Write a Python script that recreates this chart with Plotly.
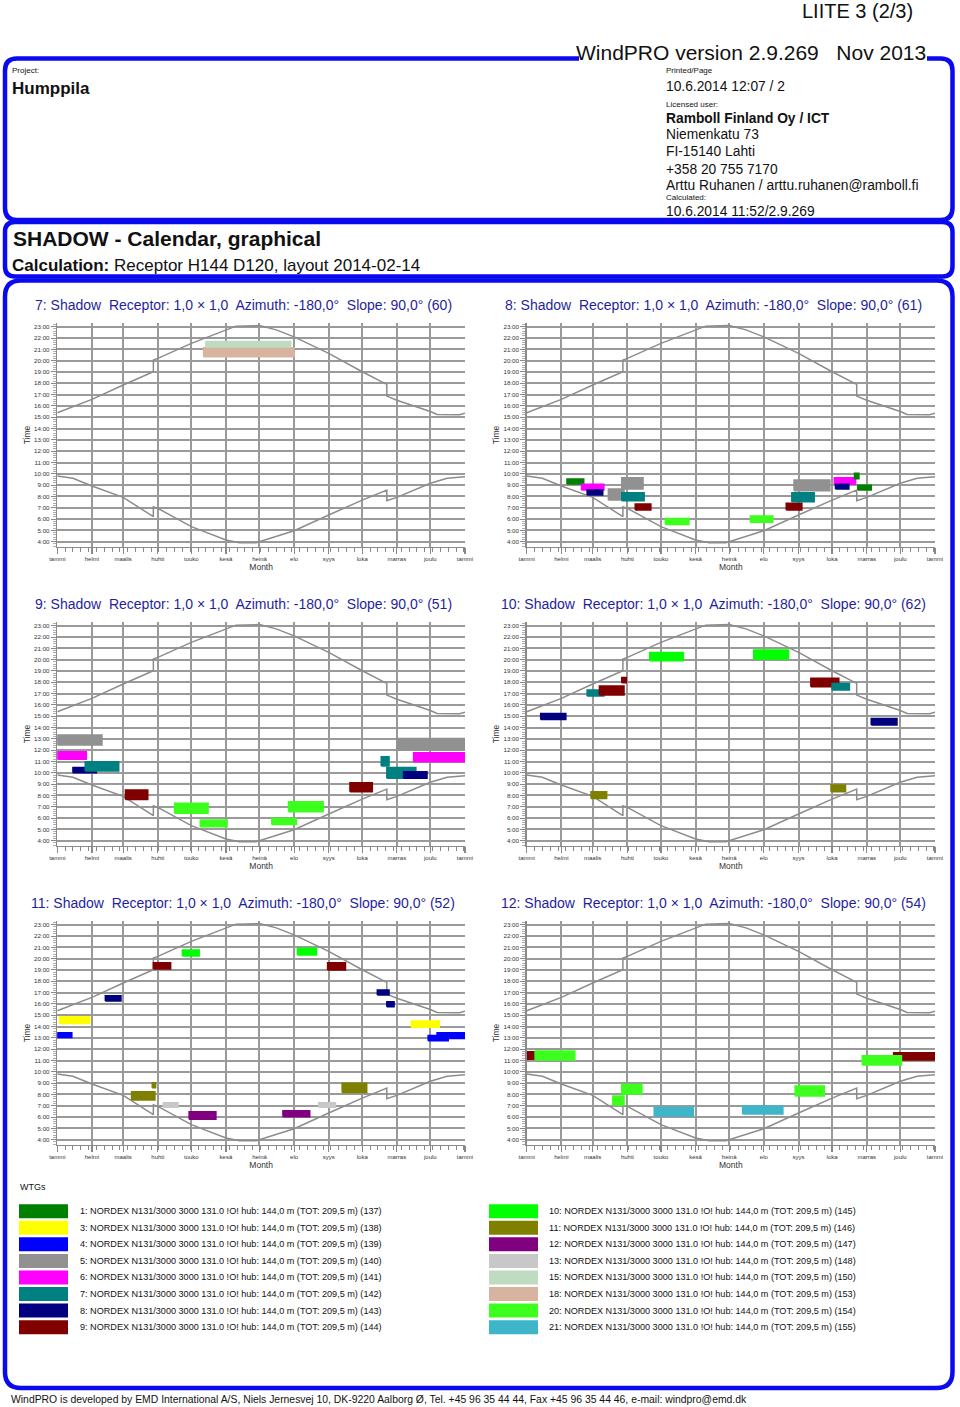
import plotly.graph_objects as go

W, H = 960, 1407

# ---------------- data ----------------
MONTH_LABELS = ["tammi", "helmi", "maalis", "huhti", "touko", "kesä", "heinä",
                "elo", "syys", "loka", "marras", "joulu", "tammi"]
MONTH_START_DAYS = [0, 31, 59, 90, 120, 151, 181, 212, 243, 273, 304, 334, 365]
HOUR_TICKS = list(range(4, 24))
HOUR_LABELS = [f"{h}:00" for h in HOUR_TICKS]

TURBINE_IDS = [1, 3, 4, 5, 6, 7, 8, 9, 10, 11, 12, 13, 15, 18, 20, 21]
TURBINE_REFS = [137, 138, 139, 140, 141, 142, 143, 144, 145, 146, 147, 148, 150, 153, 154, 155]
TURBINE_COLORS = ["#008000", "#ffff00", "#0000ff", "#919191", "#ff00ff", "#008080",
                  "#000080", "#800000", "#00ff00", "#808000", "#800080", "#c8c8c8",
                  "#c0dcc0", "#d8b4a0", "#3cff1e", "#3fb5c9"]

# sunset / sunrise (day of year, clock hour)
SUNSET_DAYS = [0, 31, 59, 86, 86, 90, 120, 151, 160, 181, 196, 212, 243, 273, 295, 295, 304, 334, 340, 360, 365]
SUNSET_HOURS = [15.40, 16.58, 17.85, 19.02, 20.05, 20.20, 21.53, 22.70, 23.05, 23.10, 22.72, 22.10,
                20.64, 19.02, 17.90, 16.87, 16.50, 15.50, 15.25, 15.22, 15.35]
SUNRISE_DAYS = [0, 14, 31, 59, 86, 86, 90, 120, 151, 163, 178, 181, 212, 243, 273, 295, 295, 304, 334, 349, 365]
SUNRISE_HOURS = [9.80, 9.60, 8.92, 7.92, 6.21, 7.09, 6.95, 5.33, 4.15, 3.91, 3.91, 4.00, 4.97,
                 6.36, 7.68, 8.57, 7.62, 7.92, 9.16, 9.60, 9.75]

RECEPTORS = [7, 8, 9, 10, 11, 12]
RECEPTOR_CODES = [60, 61, 51, 62, 52, 54]

# shadow periods: (turbine id, first day, last day, hour from, hour to)
SHADOW_7 = [(18, 131, 212, 20.35, 21.15), (15, 133, 209, 21.2, 21.7)]
SHADOW_8 = [(1, 36, 51, 9.1, 9.55), (6, 49, 69, 8.57, 9.07), (8, 54, 68, 8.13, 8.57),
            (5, 73, 87, 7.68, 8.66), (5, 85, 104, 8.66, 9.66), (7, 85, 105, 7.62, 8.33),
            (9, 97, 111, 6.8, 7.33), (20, 124, 145, 5.53, 6.06), (20, 200, 220, 5.71, 6.27),
            (9, 232, 246, 6.8, 7.39), (5, 239, 271, 8.5, 9.45), (7, 237, 257, 7.54, 8.33),
            (6, 275, 294, 9.07, 9.66), (8, 276, 288, 8.66, 9.07), (1, 293, 297, 9.57, 10.04),
            (1, 296, 308, 8.57, 9.0)]
SHADOW_9 = [(5, 0, 40, 12.46, 13.34), (6, 0, 26, 11.19, 11.87), (8, 14, 35, 10.01, 10.48),
            (7, 25, 55, 10.16, 10.98), (9, 61, 81, 7.65, 8.48), (20, 105, 135, 6.42, 7.3),
            (20, 128, 152, 5.24, 5.83), (20, 192, 214, 5.44, 5.97), (20, 207, 238, 6.56, 7.45),
            (9, 262, 282, 8.33, 9.13), (7, 290, 297, 10.6, 11.42), (7, 295, 321, 9.51, 10.48),
            (8, 310, 331, 9.51, 10.1), (5, 304, 365, 12.01, 13.04), (6, 319, 365, 10.98, 11.78)]
SHADOW_10 = [(8, 12.5, 35, 14.72, 15.25), (7, 54, 69, 16.78, 17.31), (9, 65, 87, 16.87, 17.67),
             (9, 85, 89, 17.96, 18.43), (11, 57.5, 71.5, 7.74, 8.33), (10, 110, 140, 19.91, 20.64),
             (10, 203, 234, 20.05, 20.85), (9, 254, 279, 17.61, 18.35), (7, 273, 288.5, 17.31, 17.9),
             (11, 272, 285, 8.33, 8.92), (8, 308, 331, 14.22, 14.81)]
SHADOW_11 = [(4, 0, 13, 13.04, 13.46), (3, 2, 29, 14.28, 14.87), (8, 43, 57, 16.25, 16.73),
             (9, 86, 101.5, 19.08, 19.64), (10, 112, 127, 20.23, 20.76), (11, 66.5, 87.4, 7.51, 8.24),
             (11, 85, 88, 8.6, 9.04), (13, 95, 108, 6.86, 7.27), (12, 118, 142, 5.8, 6.48),
             (12, 202, 226, 6.03, 6.56), (10, 215, 232, 20.32, 20.91), (13, 234, 249, 6.86, 7.27),
             (9, 242, 258, 18.99, 19.64), (11, 255, 277, 8.18, 8.98), (8, 286.5, 297, 16.79, 17.23),
             (8, 295, 301.5, 15.75, 16.2), (3, 317, 342, 13.93, 14.49), (4, 332, 350, 12.75, 13.2),
             (4, 340, 365, 12.95, 13.46)]
SHADOW_12 = [(9, 0, 18, 11.1, 11.78), (20, 7.5, 43, 11.04, 11.84), (20, 77, 87, 7.06, 7.86),
             (20, 85, 103, 8.04, 8.89), (21, 114, 149, 6.09, 6.86), (21, 193, 229, 6.27, 6.98),
             (20, 240, 266, 7.86, 8.74), (9, 328, 365, 11.04, 11.69), (20, 300, 335, 10.6, 11.43)]
SHADOWS = [SHADOW_7, SHADOW_8, SHADOW_9, SHADOW_10, SHADOW_11, SHADOW_12]

# ---------------- layout helpers ----------------
def px(x):
    return x / W


def py(y):
    return 1 - y / H


COLOR_OF = dict(zip(TURBINE_IDS, TURBINE_COLORS))
SANS = "Liberation Sans, Arial, Helvetica, sans-serif"
TITLE_BLUE = "#1f1f9e"
FRAME_BLUE = "#0a0af0"
GRID = "#9a9a9a"

COL_X = [(57.3, 465.0), (526.7, 935.0)]
ROW_Y = [(323.3, 546.7), (622.3, 845.7), (921.3, 1144.7)]
Y_RANGE = [3.56, 23.3]
TITLE_SHIFT = [-18, -17]

fig = go.Figure()
layout = dict(width=W, height=H, margin=dict(l=0, r=0, t=0, b=0, autoexpand=False),
              paper_bgcolor="white", plot_bgcolor="white", showlegend=False,
              font=dict(family=SANS, color="#222"))
annotations = []
shapes = []

for i, rec in enumerate(RECEPTORS):
    k = i + 1
    col, row = i % 2, i // 2
    xs = "x" if k == 1 else f"x{k}"
    ys = "y" if k == 1 else f"y{k}"
    xa = "xaxis" if k == 1 else f"xaxis{k}"
    ya = "yaxis" if k == 1 else f"yaxis{k}"
    x0, x1 = COL_X[col]
    yt, yb = ROW_Y[row]

    # sunrise/sunset
    fig.add_trace(go.Scatter(x=SUNSET_DAYS, y=SUNSET_HOURS, mode="lines", xaxis=xs, yaxis=ys,
                             line=dict(color="#8c8c8c", width=1.5), hoverinfo="skip"))
    fig.add_trace(go.Scatter(x=SUNRISE_DAYS, y=SUNRISE_HOURS, mode="lines", xaxis=xs, yaxis=ys,
                             line=dict(color="#8c8c8c", width=1.5), hoverinfo="skip"))
    # shadow periods
    for (tid, d0, d1, h0, h1) in SHADOWS[i]:
        c = COLOR_OF[tid]
        fig.add_trace(go.Scatter(x=[d0, d1, d1, d0, d0], y=[h0, h0, h1, h1, h0], mode="lines",
                                 fill="toself", fillcolor=c, line=dict(color=c, width=1.5),
                                 xaxis=xs, yaxis=ys, hoverinfo="skip"))

    layout[xa] = dict(domain=[px(x0), px(x1)], anchor=ys, range=[0, 365], automargin=False,
                      tickmode="array", tickvals=MONTH_START_DAYS, ticktext=MONTH_LABELS,
                      tickfont=dict(size=6, color="#333"), ticks="outside", ticklen=6,
                      tickcolor="#888", tickwidth=1.2, showgrid=True, gridcolor=GRID, gridwidth=2,
                      showline=True, linecolor="#8a8a8a", linewidth=1.5, zeroline=False,
                      minor=dict(tickmode="linear", tick0=0, dtick=7, ticks="outside", ticklen=4,
                                 tickcolor="#888", tickwidth=1, showgrid=False),
                      title=dict(text="Month", font=dict(size=8.5, color="#333"), standoff=1),
                      fixedrange=True)
    layout[ya] = dict(domain=[py(yb), py(yt)], anchor=xs, range=Y_RANGE, automargin=False,
                      tickmode="array", tickvals=HOUR_TICKS, ticktext=HOUR_LABELS,
                      tickfont=dict(size=6.2, color="#333"), ticks="outside", ticklen=5,
                      tickcolor="#888", tickwidth=1, showgrid=True, gridcolor=GRID, gridwidth=2,
                      showline=True, linecolor="#8a8a8a", linewidth=1.5, zeroline=False,
                      minor=dict(tickmode="linear", tick0=0, dtick=0.2, ticks="outside", ticklen=3,
                                 tickcolor="#999", tickwidth=0.8, showgrid=False),
                      title=dict(text="Time", font=dict(size=8.5, color="#333"), standoff=2),
                      fixedrange=True)

    title = (f"{rec}: Shadow\u00a0 Receptor: 1,0 × 1,0\u00a0 Azimuth: -180,0°\u00a0 "
             f"Slope: 90,0°\u00a0({RECEPTOR_CODES[i]})")
    annotations.append(dict(text=title, xref="paper", yref="paper",
                            x=px((x0 + x1) / 2 + TITLE_SHIFT[col]), y=py(ROW_Y[row][0] - 18.5),
                            xanchor="center", yanchor="middle", showarrow=False,
                            font=dict(size=14, color=TITLE_BLUE, family=SANS)))


# ---------------- frame boxes ----------------
def rrect_path(x0, y0, x1, y1, r):
    P = lambda x, y: f"{px(x):.6f},{py(y):.6f}"
    return (f"M {P(x0 + r, y0)} L {P(x1 - r, y0)} Q {P(x1, y0)} {P(x1, y0 + r)} "
            f"L {P(x1, y1 - r)} Q {P(x1, y1)} {P(x1 - r, y1)} L {P(x0 + r, y1)} "
            f"Q {P(x0, y1)} {P(x0, y1 - r)} L {P(x0, y0 + r)} Q {P(x0, y0)} {P(x0 + r, y0)} Z")


for (bx0, by0, bx1, by1, r) in [(5, 58.5, 952.5, 220, 12), (5, 222, 952.5, 276.5, 10),
                                (5, 280.5, 952.5, 1388, 16)]:
    shapes.append(dict(type="path", path=rrect_path(bx0, by0, bx1, by1, r), xref="paper", yref="paper",
                       line=dict(color=FRAME_BLUE, width=4.5), fillcolor="rgba(0,0,0,0)", layer="above"))
# gap in the top border for the version text
shapes.append(dict(type="rect", xref="paper", yref="paper", x0=px(579), x1=px(927), y0=py(63), y1=py(53),
                   fillcolor="white", line=dict(width=0), layer="above"))


def txt(s, x, y, size, bold=False, color="#111", anchor="left", family=SANS):
    if bold:
        s = f"<b>{s}</b>"
    annotations.append(dict(text=s, xref="paper", yref="paper", x=px(x), y=py(y), xanchor=anchor,
                            yanchor="middle", showarrow=False, font=dict(size=size, color=color, family=family)))


txt("LIITE 3 (2/3)", 915, 11, 20, anchor="right")
txt("WindPRO version 2.9.269\u00a0\u00a0 Nov 2013", 928, 52, 21, anchor="right")
txt("Project:", 10, 71, 8)
txt("Humppila", 9.5, 89, 17, bold=True)
txt("Printed/Page", 664, 71, 8)
txt("10.6.2014 12:07 / 2", 664, 86, 13.8)
txt("Licensed user:", 664, 104, 8)
txt("Ramboll Finland Oy / ICT", 664, 119, 13.8, bold=True)
txt("Niemenkatu 73", 664, 135, 13.8)
txt("FI-15140 Lahti", 664, 152, 13.8)
txt("+358 20 755 7170", 664, 169, 13.8)
txt("Arttu Ruhanen / arttu.ruhanen@ramboll.fi", 664, 185, 13.8)
txt("Calculated:", 664, 197.5, 8)
txt("10.6.2014 11:52/2.9.269", 664, 212, 13.8)
txt("SHADOW - Calendar, graphical", 10.5, 239, 21, bold=True)
txt("<b>Calculation:</b> Receptor H144 D120, layout 2014-02-14", 9.5, 265, 17)
txt("WTGs", 18, 1187, 9)
txt("WindPRO is developed by EMD International A/S, Niels Jernesvej 10, DK-9220 Aalborg Ø, "
    "Tel. +45 96 35 44 44, Fax +45 96 35 44 46, e-mail: windpro@emd.dk", 9, 1399, 10.4)

# ---------------- legend ----------------
for j, (tid, ref, c) in enumerate(zip(TURBINE_IDS, TURBINE_REFS, TURBINE_COLORS)):
    colj, rowj = j // 8, j % 8
    sx0 = 19 if colj == 0 else 489
    tx = 78 if colj == 0 else 547
    yc = 1211.2 + rowj * 16.57
    shapes.append(dict(type="rect", xref="paper", yref="paper", x0=px(sx0), x1=px(sx0 + 49),
                       y0=py(yc + 7), y1=py(yc - 7), fillcolor=c, line=dict(width=0)))
    txt(f"{tid}: NORDEX N131/3000 3000 131.0 !O! hub: 144,0 m (TOT: 209,5 m) ({ref})", tx, yc, 9.1)

layout["annotations"] = annotations
layout["shapes"] = shapes
fig.update_layout(**layout)
fig.write_html("out.html", config={"displayModeBar": False, "staticPlot": True},
               post_script="document.body.style.margin='0';document.body.style.overflow='hidden';")
